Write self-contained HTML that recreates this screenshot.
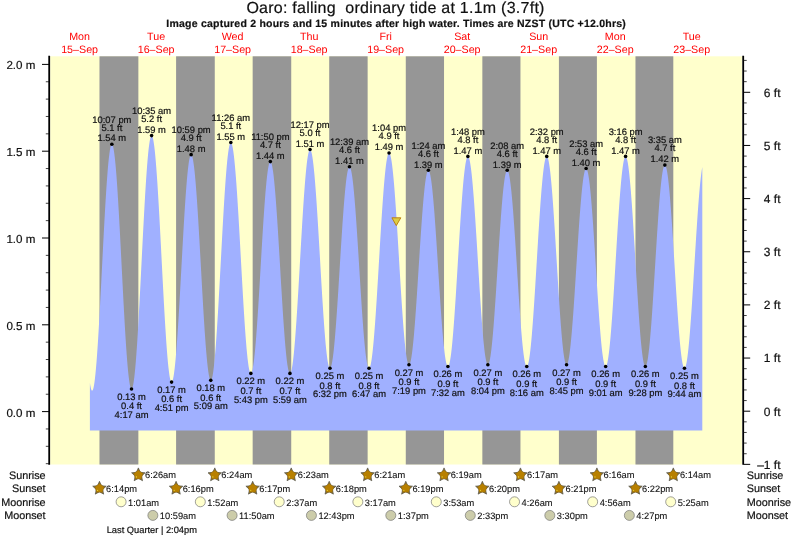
<!DOCTYPE html>
<html><head><meta charset="utf-8"><style>
html,body{margin:0;padding:0;background:#fff;width:793px;height:538px;overflow:hidden;}
svg{display:block;will-change:transform;font-family:"Liberation Sans", sans-serif;}
text{stroke-width:0.2px;text-rendering:geometricPrecision;}
</style></head><body>
<svg width="793" height="538" viewBox="0 0 793 538">
<rect x="0" y="0" width="793" height="538" fill="#fff"/>
<rect x="50.2" y="56.3" width="691.8" height="408.2" fill="#ffffcc"/>
<rect x="99.48" y="56.3" width="38.89" height="408.2" fill="#969696"/>
<rect x="176.09" y="56.3" width="38.68" height="408.2" fill="#969696"/>
<rect x="252.66" y="56.3" width="38.57" height="408.2" fill="#969696"/>
<rect x="329.22" y="56.3" width="38.41" height="408.2" fill="#969696"/>
<rect x="405.78" y="56.3" width="38.25" height="408.2" fill="#969696"/>
<rect x="482.35" y="56.3" width="38.10" height="408.2" fill="#969696"/>
<rect x="558.91" y="56.3" width="37.99" height="408.2" fill="#969696"/>
<rect x="635.47" y="56.3" width="37.83" height="408.2" fill="#969696"/>
<polygon points="89.90,430.50 89.90,382.99 90.41,386.12 90.92,388.46 91.43,389.99 91.94,390.71 92.45,390.61 92.96,389.70 93.47,387.98 93.98,385.46 94.49,382.16 95.00,378.11 95.51,373.33 96.02,367.85 96.53,361.70 97.04,354.94 97.56,347.59 98.07,339.72 98.58,331.37 99.09,322.60 99.60,313.46 100.11,304.03 100.62,294.35 101.13,284.49 101.64,274.52 102.15,264.50 102.66,254.51 103.17,244.60 103.68,234.84 104.19,225.30 104.70,216.03 105.21,207.11 105.72,198.59 106.23,190.52 106.74,182.95 107.25,175.95 107.76,169.55 108.27,163.80 108.78,158.74 109.29,154.39 109.80,150.79 110.31,147.96 110.82,145.92 111.33,144.68 111.84,144.26 112.35,144.64 112.87,145.84 113.38,147.85 113.89,150.64 114.40,154.20 114.91,158.51 115.42,163.54 115.93,169.25 116.44,175.62 116.95,182.58 117.46,190.11 117.97,198.14 118.48,206.63 118.99,215.52 119.50,224.75 120.01,234.26 120.52,243.98 121.03,253.85 121.54,263.81 122.05,273.79 122.56,283.72 123.07,293.53 123.58,303.17 124.09,312.57 124.60,321.65 125.11,330.38 125.62,338.68 126.13,346.50 126.64,353.79 127.15,360.50 127.66,366.59 128.17,372.01 128.69,376.73 129.20,380.72 129.71,383.95 130.22,386.41 130.73,388.06 131.24,388.91 131.75,388.95 132.26,388.18 132.77,386.61 133.28,384.24 133.79,381.10 134.30,377.20 134.81,372.57 135.32,367.24 135.83,361.24 136.34,354.61 136.85,347.39 137.36,339.64 137.87,331.38 138.38,322.69 138.89,313.61 139.40,304.21 139.91,294.54 140.42,284.66 140.93,274.64 141.44,264.55 141.95,254.44 142.46,244.38 142.97,234.43 143.49,224.66 144.00,215.13 144.51,205.90 145.02,197.03 145.53,188.58 146.04,180.59 146.55,173.13 147.06,166.23 147.57,159.95 148.08,154.31 148.59,149.37 149.10,145.14 149.61,141.67 150.12,138.95 150.63,137.03 151.14,135.90 151.65,135.58 152.16,136.06 152.67,137.32 153.18,139.37 153.69,142.19 154.20,145.76 154.71,150.06 155.22,155.05 155.73,160.72 156.24,167.02 156.75,173.90 157.26,181.34 157.77,189.27 158.28,197.65 158.80,206.43 159.31,215.54 159.82,224.93 160.33,234.54 160.84,244.30 161.35,254.16 161.86,264.05 162.37,273.91 162.88,283.67 163.39,293.26 163.90,302.64 164.41,311.74 164.92,320.49 165.43,328.85 165.94,336.75 166.45,344.16 166.96,351.02 167.47,357.28 167.98,362.91 168.49,367.87 169.00,372.12 169.51,375.65 170.02,378.43 170.53,380.43 171.04,381.65 171.55,382.09 172.06,381.74 172.57,380.63 173.08,378.77 173.59,376.16 174.10,372.83 174.62,368.80 175.13,364.09 175.64,358.74 176.15,352.79 176.66,346.26 177.17,339.22 177.68,331.69 178.19,323.74 178.70,315.42 179.21,306.79 179.72,297.89 180.23,288.80 180.74,279.57 181.25,270.26 181.76,260.94 182.27,251.68 182.78,242.52 183.29,233.54 183.80,224.79 184.31,216.33 184.82,208.23 185.33,200.53 185.84,193.28 186.35,186.54 186.86,180.35 187.37,174.75 187.88,169.78 188.39,165.47 188.90,161.86 189.41,158.96 189.93,156.79 190.44,155.38 190.95,154.72 191.46,154.83 191.97,155.68 192.48,157.28 192.99,159.61 193.50,162.66 194.01,166.41 194.52,170.82 195.03,175.88 195.54,181.55 196.05,187.79 196.56,194.57 197.07,201.82 197.58,209.51 198.09,217.59 198.60,226.00 199.11,234.69 199.62,243.59 200.13,252.65 200.64,261.82 201.15,271.02 201.66,280.19 202.17,289.28 202.68,298.23 203.19,306.97 203.70,315.45 204.21,323.62 204.72,331.41 205.24,338.77 205.75,345.66 206.26,352.03 206.77,357.84 207.28,363.05 207.79,367.62 208.30,371.53 208.81,374.75 209.32,377.25 209.83,379.03 210.34,380.06 210.85,380.35 211.36,379.87 211.87,378.64 212.38,376.66 212.89,373.94 213.40,370.51 213.91,366.37 214.42,361.56 214.93,356.11 215.44,350.05 215.95,343.43 216.46,336.28 216.97,328.65 217.48,320.59 217.99,312.16 218.50,303.39 219.01,294.36 219.52,285.12 220.03,275.73 220.55,266.24 221.06,256.73 221.57,247.24 222.08,237.85 222.59,228.60 223.10,219.57 223.61,210.81 224.12,202.36 224.63,194.30 225.14,186.67 225.65,179.52 226.16,172.89 226.67,166.82 227.18,161.37 227.69,156.55 228.20,152.41 228.71,148.96 229.22,146.23 229.73,144.24 230.24,143.01 230.75,142.53 231.26,142.80 231.77,143.81 232.28,145.55 232.79,148.01 233.30,151.18 233.81,155.03 234.32,159.54 234.83,164.67 235.34,170.41 235.86,176.71 236.37,183.52 236.88,190.82 237.39,198.54 237.90,206.64 238.41,215.08 238.92,223.78 239.43,232.71 239.94,241.80 240.45,250.99 240.96,260.22 241.47,269.44 241.98,278.59 242.49,287.61 243.00,296.43 243.51,305.01 244.02,313.29 244.53,321.22 245.04,328.73 245.55,335.80 246.06,342.37 246.57,348.40 247.08,353.84 247.59,358.68 248.10,362.87 248.61,366.38 249.12,369.21 249.63,371.32 250.14,372.70 250.66,373.35 251.17,373.27 251.68,372.47 252.19,370.96 252.70,368.75 253.21,365.86 253.72,362.30 254.23,358.11 254.74,353.30 255.25,347.91 255.76,341.98 256.27,335.54 256.78,328.65 257.29,321.34 257.80,313.67 258.31,305.69 258.82,297.44 259.33,289.00 259.84,280.41 260.35,271.74 260.86,263.03 261.37,254.36 261.88,245.77 262.39,237.33 262.90,229.10 263.41,221.12 263.92,213.46 264.43,206.17 264.94,199.28 265.45,192.86 265.97,186.95 266.48,181.57 266.99,176.78 267.50,172.60 268.01,169.07 268.52,166.20 269.03,164.01 269.54,162.52 270.05,161.74 270.56,161.68 271.07,162.32 271.58,163.67 272.09,165.71 272.60,168.43 273.11,171.81 273.62,175.83 274.13,180.47 274.64,185.69 275.15,191.45 275.66,197.73 276.17,204.46 276.68,211.63 277.19,219.16 277.70,227.02 278.21,235.14 278.72,243.49 279.23,251.99 279.74,260.60 280.25,269.26 280.76,277.90 281.27,286.47 281.79,294.92 282.30,303.18 282.81,311.21 283.32,318.94 283.83,326.33 284.34,333.33 284.85,339.88 285.36,345.96 285.87,351.51 286.38,356.49 286.89,360.89 287.40,364.65 287.91,367.77 288.42,370.22 288.93,371.98 289.44,373.05 289.95,373.41 290.46,373.06 290.97,371.99 291.48,370.23 291.99,367.77 292.50,364.63 293.01,360.84 293.52,356.41 294.03,351.38 294.54,345.77 295.05,339.63 295.56,332.99 296.07,325.90 296.58,318.39 297.10,310.52 297.61,302.34 298.12,293.90 298.63,285.25 299.14,276.45 299.65,267.55 300.16,258.62 300.67,249.70 301.18,240.86 301.69,232.14 302.20,223.62 302.71,215.34 303.22,207.35 303.73,199.70 304.24,192.45 304.75,185.63 305.26,179.30 305.77,173.50 306.28,168.25 306.79,163.60 307.30,159.56 307.81,156.18 308.32,153.47 308.83,151.45 309.34,150.12 309.85,149.51 310.36,149.61 310.87,150.41 311.38,151.92 311.90,154.12 312.41,156.99 312.92,160.53 313.43,164.70 313.94,169.48 314.45,174.84 314.96,180.74 315.47,187.15 315.98,194.02 316.49,201.31 317.00,208.97 317.51,216.96 318.02,225.22 318.53,233.69 319.04,242.33 319.55,251.07 320.06,259.86 320.57,268.65 321.08,277.38 321.59,285.98 322.10,294.41 322.61,302.60 323.12,310.52 323.63,318.10 324.14,325.30 324.65,332.06 325.16,338.35 325.67,344.13 326.18,349.36 326.69,354.00 327.20,358.02 327.72,361.40 328.23,364.12 328.74,366.16 329.25,367.50 329.76,368.14 330.27,368.08 330.78,367.33 331.29,365.91 331.80,363.83 332.31,361.10 332.82,357.73 333.33,353.75 333.84,349.19 334.35,344.08 334.86,338.45 335.37,332.34 335.88,325.80 336.39,318.86 336.90,311.57 337.41,303.99 337.92,296.16 338.43,288.13 338.94,279.97 339.45,271.72 339.96,263.44 340.47,255.19 340.98,247.03 341.49,239.00 342.00,231.17 342.51,223.58 343.03,216.29 343.54,209.34 344.05,202.79 344.56,196.67 345.07,191.03 345.58,185.91 346.09,181.34 346.60,177.36 347.11,173.98 347.62,171.23 348.13,169.14 348.64,167.71 349.15,166.95 349.66,166.87 350.17,167.47 350.68,168.75 351.19,170.68 351.70,173.27 352.21,176.49 352.72,180.32 353.23,184.74 353.74,189.71 354.25,195.21 354.76,201.19 355.27,207.62 355.78,214.45 356.29,221.63 356.80,229.13 357.31,236.88 357.82,244.84 358.34,252.95 358.85,261.16 359.36,269.41 359.87,277.65 360.38,285.82 360.89,293.87 361.40,301.74 361.91,309.38 362.42,316.74 362.93,323.77 363.44,330.42 363.95,336.65 364.46,342.41 364.97,347.67 365.48,352.39 365.99,356.54 366.50,360.10 367.01,363.03 367.52,365.32 368.03,366.95 368.54,367.91 369.05,368.20 369.56,367.80 370.07,366.72 370.58,364.96 371.09,362.53 371.60,359.45 372.11,355.73 372.62,351.40 373.13,346.50 373.65,341.04 374.16,335.07 374.67,328.62 375.18,321.73 375.69,314.46 376.20,306.83 376.71,298.92 377.22,290.75 377.73,282.40 378.24,273.90 378.75,265.32 379.26,256.70 379.77,248.12 380.28,239.61 380.79,231.23 381.30,223.05 381.81,215.10 382.32,207.45 382.83,200.13 383.34,193.21 383.85,186.71 384.36,180.69 384.87,175.17 385.38,170.21 385.89,165.82 386.40,162.04 386.91,158.89 387.42,156.40 387.93,154.57 388.45,153.41 388.96,152.95 389.47,153.17 389.98,154.07 390.49,155.66 391.00,157.91 391.51,160.81 392.02,164.35 392.53,168.50 393.04,173.24 393.55,178.52 394.06,184.33 394.57,190.62 395.08,197.35 395.59,204.48 396.10,211.96 396.61,219.75 397.12,227.79 397.63,236.03 398.14,244.41 398.65,252.89 399.16,261.41 399.67,269.91 400.18,278.34 400.69,286.64 401.20,294.77 401.71,302.66 402.22,310.26 402.73,317.54 403.24,324.43 403.75,330.90 404.27,336.90 404.78,342.40 405.29,347.36 405.80,351.74 406.31,355.53 406.82,358.68 407.33,361.20 407.84,363.04 408.35,364.22 408.86,364.71 409.37,364.53 409.88,363.68 410.39,362.17 410.90,360.02 411.41,357.23 411.92,353.83 412.43,349.85 412.94,345.30 413.45,340.22 413.96,334.64 414.47,328.60 414.98,322.15 415.49,315.32 416.00,308.17 416.51,300.74 417.02,293.08 417.53,285.25 418.04,277.29 418.55,269.27 419.07,261.24 419.58,253.25 420.09,245.36 420.60,237.62 421.11,230.08 421.62,222.80 422.13,215.82 422.64,209.20 423.15,202.98 423.66,197.19 424.17,191.89 424.68,187.10 425.19,182.87 425.70,179.21 426.21,176.15 426.72,173.72 427.23,171.93 427.74,170.79 428.25,170.31 428.76,170.50 429.27,171.34 429.78,172.83 430.29,174.97 430.80,177.74 431.31,181.11 431.82,185.07 432.33,189.59 432.84,194.64 433.35,200.18 433.86,206.19 434.38,212.61 434.89,219.40 435.40,226.53 435.91,233.93 436.42,241.57 436.93,249.39 437.44,257.33 437.95,265.35 438.46,273.39 438.97,281.40 439.48,289.32 439.99,297.10 440.50,304.68 441.01,312.02 441.52,319.07 442.03,325.78 442.54,332.10 443.05,337.99 443.56,343.42 444.07,348.34 444.58,352.72 445.09,356.54 445.60,359.77 446.11,362.38 446.62,364.36 447.13,365.69 447.64,366.37 448.15,366.39 448.66,365.74 449.17,364.41 449.69,362.42 450.20,359.79 450.71,356.52 451.22,352.63 451.73,348.16 452.24,343.14 452.75,337.58 453.26,331.54 453.77,325.04 454.28,318.14 454.79,310.87 455.30,303.28 455.81,295.42 456.32,287.35 456.83,279.10 457.34,270.75 457.85,262.33 458.36,253.91 458.87,245.53 459.38,237.26 459.89,229.15 460.40,221.24 460.91,213.59 461.42,206.25 461.93,199.26 462.44,192.68 462.95,186.53 463.46,180.87 463.97,175.73 464.48,171.14 465.00,167.13 465.51,163.73 466.02,160.95 466.53,158.83 467.04,157.36 467.55,156.56 468.06,156.44 468.57,156.99 469.08,158.21 469.59,160.09 470.10,162.61 470.61,165.76 471.12,169.52 471.63,173.87 472.14,178.78 472.65,184.22 473.16,190.14 473.67,196.52 474.18,203.31 474.69,210.47 475.20,217.95 475.71,225.71 476.22,233.69 476.73,241.84 477.24,250.12 477.75,258.46 478.26,266.81 478.77,275.13 479.28,283.35 479.79,291.43 480.31,299.30 480.82,306.93 481.33,314.26 481.84,321.24 482.35,327.83 482.86,333.99 483.37,339.68 483.88,344.85 484.39,349.49 484.90,353.55 485.41,357.02 485.92,359.86 486.43,362.06 486.94,363.61 487.45,364.50 487.96,364.72 488.47,364.27 488.98,363.15 489.49,361.38 490.00,358.96 490.51,355.92 491.02,352.27 491.53,348.03 492.04,343.25 492.55,337.94 493.06,332.15 493.57,325.91 494.08,319.28 494.59,312.29 495.10,304.99 495.62,297.43 496.13,289.67 496.64,281.76 497.15,273.74 497.66,265.69 498.17,257.65 498.68,249.67 499.19,241.82 499.70,234.14 500.21,226.70 500.72,219.53 501.23,212.70 501.74,206.24 502.25,200.20 502.76,194.62 503.27,189.54 503.78,185.00 504.29,181.03 504.80,177.65 505.31,174.89 505.82,172.76 506.33,171.29 506.84,170.47 507.35,170.32 507.86,170.83 508.37,172.00 508.88,173.82 509.39,176.27 509.90,179.34 510.41,183.01 510.92,187.25 511.44,192.04 511.95,197.34 512.46,203.11 512.97,209.33 513.48,215.94 513.99,222.91 514.50,230.18 515.01,237.71 515.52,245.44 516.03,253.33 516.54,261.32 517.05,269.35 517.56,277.38 518.07,285.35 518.58,293.21 519.09,300.90 519.60,308.37 520.11,315.57 520.62,322.45 521.13,328.97 521.64,335.09 522.15,340.75 522.66,345.93 523.17,350.59 523.68,354.70 524.19,358.22 524.70,361.14 525.21,363.44 525.72,365.10 526.23,366.11 526.75,366.46 527.26,366.15 527.77,365.16 528.28,363.51 528.79,361.19 529.30,358.24 529.81,354.66 530.32,350.48 530.83,345.73 531.34,340.44 531.85,334.63 532.36,328.36 532.87,321.66 533.38,314.56 533.89,307.13 534.40,299.40 534.91,291.43 535.42,283.26 535.93,274.96 536.44,266.56 536.95,258.14 537.46,249.73 537.97,241.40 538.48,233.20 538.99,225.18 539.50,217.40 540.01,209.90 540.52,202.73 541.03,195.93 541.54,189.56 542.06,183.65 542.57,178.25 543.08,173.37 543.59,169.07 544.10,165.36 544.61,162.27 545.12,159.81 545.63,158.01 546.14,156.88 546.65,156.42 547.16,156.64 547.67,157.53 548.18,159.10 548.69,161.34 549.20,164.22 549.71,167.73 550.22,171.86 550.73,176.56 551.24,181.81 551.75,187.57 552.26,193.82 552.77,200.50 553.28,207.57 553.79,214.99 554.30,222.71 554.81,230.67 555.32,238.83 555.83,247.13 556.34,255.53 556.86,263.95 557.37,272.35 557.88,280.68 558.39,288.87 558.90,296.88 559.41,304.65 559.92,312.13 560.43,319.27 560.94,326.04 561.45,332.37 561.96,338.23 562.47,343.59 562.98,348.40 563.49,352.64 564.00,356.27 564.51,359.28 565.02,361.64 565.53,363.35 566.04,364.38 566.55,364.73 567.06,364.41 567.57,363.43 568.08,361.81 568.59,359.54 569.10,356.65 569.61,353.15 570.12,349.08 570.63,344.45 571.14,339.29 571.65,333.65 572.16,327.56 572.68,321.06 573.19,314.19 573.70,307.01 574.21,299.55 574.72,291.87 575.23,284.02 575.74,276.06 576.25,268.03 576.76,259.99 577.27,252.00 577.78,244.10 578.29,236.36 578.80,228.82 579.31,221.54 579.82,214.55 580.33,207.92 580.84,201.69 581.35,195.88 581.86,190.56 582.37,185.74 582.88,181.47 583.39,177.78 583.90,174.67 584.41,172.19 584.92,170.34 585.43,169.14 585.94,168.60 586.45,168.71 586.96,169.49 587.47,170.92 587.99,173.01 588.50,175.73 589.01,179.07 589.52,183.00 590.03,187.50 590.54,192.54 591.05,198.08 591.56,204.08 592.07,210.52 592.58,217.34 593.09,224.49 593.60,231.93 594.11,239.61 594.62,247.48 595.13,255.49 595.64,263.57 596.15,271.69 596.66,279.77 597.17,287.77 597.68,295.63 598.19,303.31 598.70,310.75 599.21,317.89 599.72,324.70 600.23,331.12 600.74,337.11 601.25,342.64 601.76,347.66 602.27,352.15 602.78,356.06 603.30,359.38 603.81,362.08 604.32,364.15 604.83,365.57 605.34,366.33 605.85,366.42 606.36,365.84 606.87,364.58 607.38,362.65 607.89,360.07 608.40,356.85 608.91,353.02 609.42,348.59 609.93,343.59 610.44,338.07 610.95,332.05 611.46,325.57 611.97,318.68 612.48,311.41 612.99,303.83 613.50,295.97 614.01,287.88 614.52,279.63 615.03,271.25 615.54,262.82 616.05,254.37 616.56,245.97 617.07,237.67 617.58,229.52 618.09,221.58 618.61,213.90 619.12,206.53 619.63,199.51 620.14,192.89 620.65,186.72 621.16,181.02 621.67,175.85 622.18,171.24 622.69,167.20 623.20,163.78 623.71,160.99 624.22,158.85 624.73,157.37 625.24,156.57 625.75,156.44 626.26,157.01 626.77,158.26 627.28,160.18 627.79,162.78 628.30,166.02 628.81,169.89 629.32,174.36 629.83,179.41 630.34,184.99 630.85,191.08 631.36,197.63 631.87,204.60 632.38,211.94 632.89,219.61 633.40,227.56 633.92,235.72 634.43,244.06 634.94,252.51 635.45,261.02 635.96,269.53 636.47,277.99 636.98,286.34 637.49,294.52 638.00,302.49 638.51,310.19 639.02,317.57 639.53,324.57 640.04,331.17 640.55,337.30 641.06,342.94 641.57,348.04 642.08,352.57 642.59,356.50 643.10,359.80 643.61,362.46 644.12,364.46 644.63,365.77 645.14,366.40 645.65,366.35 646.16,365.61 646.67,364.20 647.18,362.12 647.69,359.39 648.20,356.03 648.72,352.06 649.23,347.51 649.74,342.40 650.25,336.78 650.76,330.67 651.27,324.13 651.78,317.19 652.29,309.91 652.80,302.33 653.31,294.50 653.82,286.48 654.33,278.32 654.84,270.07 655.35,261.79 655.86,253.54 656.37,245.38 656.88,237.35 657.39,229.51 657.90,221.92 658.41,214.62 658.92,207.67 659.43,201.12 659.94,195.00 660.45,189.35 660.96,184.23 661.47,179.65 661.98,175.66 662.49,172.28 663.00,169.52 663.51,167.42 664.02,165.98 664.54,165.22 665.05,165.14 665.56,165.73 666.07,167.00 666.58,168.94 667.09,171.52 667.60,174.75 668.11,178.59 668.62,183.01 669.13,188.00 669.64,193.51 670.15,199.51 670.66,205.96 671.17,212.81 671.68,220.03 672.19,227.55 672.70,235.34 673.21,243.34 673.72,251.49 674.23,259.74 674.74,268.04 675.25,276.33 675.76,284.56 676.27,292.66 676.78,300.59 677.29,308.30 677.80,315.72 678.31,322.82 678.82,329.55 679.34,335.85 679.85,341.69 680.36,347.03 680.87,351.83 681.38,356.06 681.89,359.69 682.40,362.71 682.91,365.08 683.42,366.79 683.93,367.83 684.44,368.20 684.95,367.89 685.46,366.91 685.97,365.27 686.48,362.98 686.99,360.05 687.50,356.50 688.01,352.36 688.52,347.64 689.03,342.39 689.54,336.64 690.05,330.42 690.56,323.78 691.07,316.75 691.58,309.38 692.09,301.73 692.60,293.84 693.11,285.75 693.62,277.54 694.13,269.24 694.65,260.91 695.16,252.61 695.67,244.39 696.18,236.30 696.69,228.40 697.20,220.73 697.71,213.36 698.22,206.31 698.73,199.65 699.24,193.42 699.75,187.64 700.26,182.37 700.77,177.64 701.28,173.47 701.79,169.90 702.30,166.94 702.30,430.50" fill="#a0b0ff"/>
<line x1="49.2" y1="55.699999999999996" x2="49.2" y2="464.8" stroke="#000" stroke-width="1.8"/>
<line x1="743.2" y1="55.699999999999996" x2="743.2" y2="464.8" stroke="#000" stroke-width="1.8"/>
<line x1="45.8" y1="463.68" x2="49" y2="463.68" stroke="#111" stroke-width="0.8"/>
<line x1="45.8" y1="446.32" x2="49" y2="446.32" stroke="#111" stroke-width="0.8"/>
<line x1="45.8" y1="428.96" x2="49" y2="428.96" stroke="#111" stroke-width="0.8"/>
<line x1="42" y1="411.60" x2="49" y2="411.60" stroke="#000" stroke-width="1"/>
<line x1="45.8" y1="394.24" x2="49" y2="394.24" stroke="#111" stroke-width="0.8"/>
<line x1="45.8" y1="376.88" x2="49" y2="376.88" stroke="#111" stroke-width="0.8"/>
<line x1="45.8" y1="359.52" x2="49" y2="359.52" stroke="#111" stroke-width="0.8"/>
<line x1="45.8" y1="342.16" x2="49" y2="342.16" stroke="#111" stroke-width="0.8"/>
<line x1="42" y1="324.80" x2="49" y2="324.80" stroke="#000" stroke-width="1"/>
<line x1="45.8" y1="307.44" x2="49" y2="307.44" stroke="#111" stroke-width="0.8"/>
<line x1="45.8" y1="290.08" x2="49" y2="290.08" stroke="#111" stroke-width="0.8"/>
<line x1="45.8" y1="272.72" x2="49" y2="272.72" stroke="#111" stroke-width="0.8"/>
<line x1="45.8" y1="255.36" x2="49" y2="255.36" stroke="#111" stroke-width="0.8"/>
<line x1="42" y1="238.00" x2="49" y2="238.00" stroke="#000" stroke-width="1"/>
<line x1="45.8" y1="220.64" x2="49" y2="220.64" stroke="#111" stroke-width="0.8"/>
<line x1="45.8" y1="203.28" x2="49" y2="203.28" stroke="#111" stroke-width="0.8"/>
<line x1="45.8" y1="185.92" x2="49" y2="185.92" stroke="#111" stroke-width="0.8"/>
<line x1="45.8" y1="168.56" x2="49" y2="168.56" stroke="#111" stroke-width="0.8"/>
<line x1="42" y1="151.20" x2="49" y2="151.20" stroke="#000" stroke-width="1"/>
<line x1="45.8" y1="133.84" x2="49" y2="133.84" stroke="#111" stroke-width="0.8"/>
<line x1="45.8" y1="116.48" x2="49" y2="116.48" stroke="#111" stroke-width="0.8"/>
<line x1="45.8" y1="99.12" x2="49" y2="99.12" stroke="#111" stroke-width="0.8"/>
<line x1="45.8" y1="81.76" x2="49" y2="81.76" stroke="#111" stroke-width="0.8"/>
<line x1="42" y1="64.40" x2="49" y2="64.40" stroke="#000" stroke-width="1"/>
<text x="35.4" y="416.60" font-family="Liberation Sans, sans-serif" font-size="11.6" text-anchor="end" fill="#111" stroke="#111">0.0 m</text>
<text x="35.4" y="329.80" font-family="Liberation Sans, sans-serif" font-size="11.6" text-anchor="end" fill="#111" stroke="#111">0.5 m</text>
<text x="35.4" y="243.00" font-family="Liberation Sans, sans-serif" font-size="11.6" text-anchor="end" fill="#111" stroke="#111">1.0 m</text>
<text x="35.4" y="156.20" font-family="Liberation Sans, sans-serif" font-size="11.6" text-anchor="end" fill="#111" stroke="#111">1.5 m</text>
<text x="35.4" y="69.40" font-family="Liberation Sans, sans-serif" font-size="11.6" text-anchor="end" fill="#111" stroke="#111">2.0 m</text>
<line x1="743.5" y1="464.35" x2="750.2" y2="464.35" stroke="#000" stroke-width="1"/>
<line x1="743.5" y1="453.72" x2="746.7" y2="453.72" stroke="#111" stroke-width="0.8"/>
<line x1="743.5" y1="443.09" x2="746.7" y2="443.09" stroke="#111" stroke-width="0.8"/>
<line x1="743.5" y1="432.46" x2="746.7" y2="432.46" stroke="#111" stroke-width="0.8"/>
<line x1="743.5" y1="421.83" x2="746.7" y2="421.83" stroke="#111" stroke-width="0.8"/>
<line x1="743.5" y1="411.20" x2="750.2" y2="411.20" stroke="#000" stroke-width="1"/>
<line x1="743.5" y1="400.57" x2="746.7" y2="400.57" stroke="#111" stroke-width="0.8"/>
<line x1="743.5" y1="389.94" x2="746.7" y2="389.94" stroke="#111" stroke-width="0.8"/>
<line x1="743.5" y1="379.31" x2="746.7" y2="379.31" stroke="#111" stroke-width="0.8"/>
<line x1="743.5" y1="368.68" x2="746.7" y2="368.68" stroke="#111" stroke-width="0.8"/>
<line x1="743.5" y1="358.05" x2="750.2" y2="358.05" stroke="#000" stroke-width="1"/>
<line x1="743.5" y1="347.42" x2="746.7" y2="347.42" stroke="#111" stroke-width="0.8"/>
<line x1="743.5" y1="336.79" x2="746.7" y2="336.79" stroke="#111" stroke-width="0.8"/>
<line x1="743.5" y1="326.16" x2="746.7" y2="326.16" stroke="#111" stroke-width="0.8"/>
<line x1="743.5" y1="315.53" x2="746.7" y2="315.53" stroke="#111" stroke-width="0.8"/>
<line x1="743.5" y1="304.90" x2="750.2" y2="304.90" stroke="#000" stroke-width="1"/>
<line x1="743.5" y1="294.27" x2="746.7" y2="294.27" stroke="#111" stroke-width="0.8"/>
<line x1="743.5" y1="283.64" x2="746.7" y2="283.64" stroke="#111" stroke-width="0.8"/>
<line x1="743.5" y1="273.01" x2="746.7" y2="273.01" stroke="#111" stroke-width="0.8"/>
<line x1="743.5" y1="262.38" x2="746.7" y2="262.38" stroke="#111" stroke-width="0.8"/>
<line x1="743.5" y1="251.75" x2="750.2" y2="251.75" stroke="#000" stroke-width="1"/>
<line x1="743.5" y1="241.12" x2="746.7" y2="241.12" stroke="#111" stroke-width="0.8"/>
<line x1="743.5" y1="230.49" x2="746.7" y2="230.49" stroke="#111" stroke-width="0.8"/>
<line x1="743.5" y1="219.86" x2="746.7" y2="219.86" stroke="#111" stroke-width="0.8"/>
<line x1="743.5" y1="209.23" x2="746.7" y2="209.23" stroke="#111" stroke-width="0.8"/>
<line x1="743.5" y1="198.60" x2="750.2" y2="198.60" stroke="#000" stroke-width="1"/>
<line x1="743.5" y1="187.97" x2="746.7" y2="187.97" stroke="#111" stroke-width="0.8"/>
<line x1="743.5" y1="177.34" x2="746.7" y2="177.34" stroke="#111" stroke-width="0.8"/>
<line x1="743.5" y1="166.71" x2="746.7" y2="166.71" stroke="#111" stroke-width="0.8"/>
<line x1="743.5" y1="156.08" x2="746.7" y2="156.08" stroke="#111" stroke-width="0.8"/>
<line x1="743.5" y1="145.45" x2="750.2" y2="145.45" stroke="#000" stroke-width="1"/>
<line x1="743.5" y1="134.82" x2="746.7" y2="134.82" stroke="#111" stroke-width="0.8"/>
<line x1="743.5" y1="124.19" x2="746.7" y2="124.19" stroke="#111" stroke-width="0.8"/>
<line x1="743.5" y1="113.56" x2="746.7" y2="113.56" stroke="#111" stroke-width="0.8"/>
<line x1="743.5" y1="102.93" x2="746.7" y2="102.93" stroke="#111" stroke-width="0.8"/>
<line x1="743.5" y1="92.30" x2="750.2" y2="92.30" stroke="#000" stroke-width="1"/>
<line x1="743.5" y1="81.67" x2="746.7" y2="81.67" stroke="#111" stroke-width="0.8"/>
<line x1="743.5" y1="71.04" x2="746.7" y2="71.04" stroke="#111" stroke-width="0.8"/>
<line x1="743.5" y1="60.41" x2="746.7" y2="60.41" stroke="#111" stroke-width="0.8"/>
<text x="780.5" y="468.75" font-family="Liberation Sans, sans-serif" font-size="12" text-anchor="end" fill="#111" stroke="#111">–1 ft</text>
<text x="780.5" y="415.60" font-family="Liberation Sans, sans-serif" font-size="12" text-anchor="end" fill="#111" stroke="#111">0 ft</text>
<text x="780.5" y="362.45" font-family="Liberation Sans, sans-serif" font-size="12" text-anchor="end" fill="#111" stroke="#111">1 ft</text>
<text x="780.5" y="309.30" font-family="Liberation Sans, sans-serif" font-size="12" text-anchor="end" fill="#111" stroke="#111">2 ft</text>
<text x="780.5" y="256.15" font-family="Liberation Sans, sans-serif" font-size="12" text-anchor="end" fill="#111" stroke="#111">3 ft</text>
<text x="780.5" y="203.00" font-family="Liberation Sans, sans-serif" font-size="12" text-anchor="end" fill="#111" stroke="#111">4 ft</text>
<text x="780.5" y="149.85" font-family="Liberation Sans, sans-serif" font-size="12" text-anchor="end" fill="#111" stroke="#111">5 ft</text>
<text x="780.5" y="96.70" font-family="Liberation Sans, sans-serif" font-size="12" text-anchor="end" fill="#111" stroke="#111">6 ft</text>
<text x="246.4" y="13.2" font-family="Liberation Sans, sans-serif" font-size="16" textLength="298" lengthAdjust="spacing" fill="#111" stroke="#111">Oaro: falling&#160; ordinary tide at 1.1m (3.7ft)</text>
<text x="166.3" y="27.4" font-family="Liberation Sans, sans-serif" font-size="10.5" font-weight="bold" textLength="459.5" lengthAdjust="spacing" fill="#111" stroke="#111">Image captured 2 hours and 15 minutes after high water. Times are NZST (UTC +12.0hrs)</text>
<text x="79.61" y="39.8" font-family="Liberation Sans, sans-serif" font-size="10.7" text-anchor="middle" fill="#ff0000">Mon</text>
<text x="79.61" y="52.6" font-family="Liberation Sans, sans-serif" font-size="10.7" text-anchor="middle" fill="#ff0000">15–Sep</text>
<text x="156.12" y="39.8" font-family="Liberation Sans, sans-serif" font-size="10.7" text-anchor="middle" fill="#ff0000">Tue</text>
<text x="156.12" y="52.6" font-family="Liberation Sans, sans-serif" font-size="10.7" text-anchor="middle" fill="#ff0000">16–Sep</text>
<text x="232.62" y="39.8" font-family="Liberation Sans, sans-serif" font-size="10.7" text-anchor="middle" fill="#ff0000">Wed</text>
<text x="232.62" y="52.6" font-family="Liberation Sans, sans-serif" font-size="10.7" text-anchor="middle" fill="#ff0000">17–Sep</text>
<text x="309.14" y="39.8" font-family="Liberation Sans, sans-serif" font-size="10.7" text-anchor="middle" fill="#ff0000">Thu</text>
<text x="309.14" y="52.6" font-family="Liberation Sans, sans-serif" font-size="10.7" text-anchor="middle" fill="#ff0000">18–Sep</text>
<text x="385.65" y="39.8" font-family="Liberation Sans, sans-serif" font-size="10.7" text-anchor="middle" fill="#ff0000">Fri</text>
<text x="385.65" y="52.6" font-family="Liberation Sans, sans-serif" font-size="10.7" text-anchor="middle" fill="#ff0000">19–Sep</text>
<text x="462.16" y="39.8" font-family="Liberation Sans, sans-serif" font-size="10.7" text-anchor="middle" fill="#ff0000">Sat</text>
<text x="462.16" y="52.6" font-family="Liberation Sans, sans-serif" font-size="10.7" text-anchor="middle" fill="#ff0000">20–Sep</text>
<text x="538.67" y="39.8" font-family="Liberation Sans, sans-serif" font-size="10.7" text-anchor="middle" fill="#ff0000">Sun</text>
<text x="538.67" y="52.6" font-family="Liberation Sans, sans-serif" font-size="10.7" text-anchor="middle" fill="#ff0000">21–Sep</text>
<text x="615.18" y="39.8" font-family="Liberation Sans, sans-serif" font-size="10.7" text-anchor="middle" fill="#ff0000">Mon</text>
<text x="615.18" y="52.6" font-family="Liberation Sans, sans-serif" font-size="10.7" text-anchor="middle" fill="#ff0000">22–Sep</text>
<text x="691.69" y="39.8" font-family="Liberation Sans, sans-serif" font-size="10.7" text-anchor="middle" fill="#ff0000">Tue</text>
<text x="691.69" y="52.6" font-family="Liberation Sans, sans-serif" font-size="10.7" text-anchor="middle" fill="#ff0000">23–Sep</text>
<circle cx="111.86" cy="144.26" r="1.8" fill="#000"/>
<text x="111.86" y="122.66" font-family="Liberation Sans, sans-serif" font-size="9.4" text-anchor="middle" fill="#111" stroke="#111">10:07 pm</text>
<text x="111.86" y="130.66" font-family="Liberation Sans, sans-serif" font-size="9.4" text-anchor="middle" fill="#111" stroke="#111">5.1 ft</text>
<text x="111.86" y="141.46" font-family="Liberation Sans, sans-serif" font-size="9.4" text-anchor="middle" fill="#111" stroke="#111">1.54 m</text>
<circle cx="131.51" cy="389.03" r="1.8" fill="#000"/>
<text x="131.51" y="399.83" font-family="Liberation Sans, sans-serif" font-size="9.4" text-anchor="middle" fill="#111" stroke="#111">0.13 m</text>
<text x="131.51" y="409.43" font-family="Liberation Sans, sans-serif" font-size="9.4" text-anchor="middle" fill="#111" stroke="#111">0.4 ft</text>
<text x="131.51" y="418.13" font-family="Liberation Sans, sans-serif" font-size="9.4" text-anchor="middle" fill="#111" stroke="#111">4:17 am</text>
<circle cx="151.60" cy="135.58" r="1.8" fill="#000"/>
<text x="151.60" y="113.98" font-family="Liberation Sans, sans-serif" font-size="9.4" text-anchor="middle" fill="#111" stroke="#111">10:35 am</text>
<text x="151.60" y="121.98" font-family="Liberation Sans, sans-serif" font-size="9.4" text-anchor="middle" fill="#111" stroke="#111">5.2 ft</text>
<text x="151.60" y="132.78" font-family="Liberation Sans, sans-serif" font-size="9.4" text-anchor="middle" fill="#111" stroke="#111">1.59 m</text>
<circle cx="171.58" cy="382.09" r="1.8" fill="#000"/>
<text x="171.58" y="392.89" font-family="Liberation Sans, sans-serif" font-size="9.4" text-anchor="middle" fill="#111" stroke="#111">0.17 m</text>
<text x="171.58" y="402.49" font-family="Liberation Sans, sans-serif" font-size="9.4" text-anchor="middle" fill="#111" stroke="#111">0.6 ft</text>
<text x="171.58" y="411.19" font-family="Liberation Sans, sans-serif" font-size="9.4" text-anchor="middle" fill="#111" stroke="#111">4:51 pm</text>
<circle cx="191.13" cy="154.67" r="1.8" fill="#000"/>
<text x="191.13" y="133.07" font-family="Liberation Sans, sans-serif" font-size="9.4" text-anchor="middle" fill="#111" stroke="#111">10:59 pm</text>
<text x="191.13" y="141.07" font-family="Liberation Sans, sans-serif" font-size="9.4" text-anchor="middle" fill="#111" stroke="#111">4.9 ft</text>
<text x="191.13" y="151.87" font-family="Liberation Sans, sans-serif" font-size="9.4" text-anchor="middle" fill="#111" stroke="#111">1.48 m</text>
<circle cx="210.79" cy="380.35" r="1.8" fill="#000"/>
<text x="210.79" y="391.15" font-family="Liberation Sans, sans-serif" font-size="9.4" text-anchor="middle" fill="#111" stroke="#111">0.18 m</text>
<text x="210.79" y="400.75" font-family="Liberation Sans, sans-serif" font-size="9.4" text-anchor="middle" fill="#111" stroke="#111">0.6 ft</text>
<text x="210.79" y="409.45" font-family="Liberation Sans, sans-serif" font-size="9.4" text-anchor="middle" fill="#111" stroke="#111">5:09 am</text>
<circle cx="230.82" cy="142.52" r="1.8" fill="#000"/>
<text x="230.82" y="120.92" font-family="Liberation Sans, sans-serif" font-size="9.4" text-anchor="middle" fill="#111" stroke="#111">11:26 am</text>
<text x="230.82" y="128.92" font-family="Liberation Sans, sans-serif" font-size="9.4" text-anchor="middle" fill="#111" stroke="#111">5.1 ft</text>
<text x="230.82" y="139.72" font-family="Liberation Sans, sans-serif" font-size="9.4" text-anchor="middle" fill="#111" stroke="#111">1.55 m</text>
<circle cx="250.85" cy="373.41" r="1.8" fill="#000"/>
<text x="250.85" y="384.21" font-family="Liberation Sans, sans-serif" font-size="9.4" text-anchor="middle" fill="#111" stroke="#111">0.22 m</text>
<text x="250.85" y="393.81" font-family="Liberation Sans, sans-serif" font-size="9.4" text-anchor="middle" fill="#111" stroke="#111">0.7 ft</text>
<text x="250.85" y="402.51" font-family="Liberation Sans, sans-serif" font-size="9.4" text-anchor="middle" fill="#111" stroke="#111">5:43 pm</text>
<circle cx="270.35" cy="161.62" r="1.8" fill="#000"/>
<text x="270.35" y="140.02" font-family="Liberation Sans, sans-serif" font-size="9.4" text-anchor="middle" fill="#111" stroke="#111">11:50 pm</text>
<text x="270.35" y="148.02" font-family="Liberation Sans, sans-serif" font-size="9.4" text-anchor="middle" fill="#111" stroke="#111">4.7 ft</text>
<text x="270.35" y="158.82" font-family="Liberation Sans, sans-serif" font-size="9.4" text-anchor="middle" fill="#111" stroke="#111">1.44 m</text>
<circle cx="289.95" cy="373.41" r="1.8" fill="#000"/>
<text x="289.95" y="384.21" font-family="Liberation Sans, sans-serif" font-size="9.4" text-anchor="middle" fill="#111" stroke="#111">0.22 m</text>
<text x="289.95" y="393.81" font-family="Liberation Sans, sans-serif" font-size="9.4" text-anchor="middle" fill="#111" stroke="#111">0.7 ft</text>
<text x="289.95" y="402.51" font-family="Liberation Sans, sans-serif" font-size="9.4" text-anchor="middle" fill="#111" stroke="#111">5:59 am</text>
<circle cx="310.04" cy="149.46" r="1.8" fill="#000"/>
<text x="310.04" y="127.86" font-family="Liberation Sans, sans-serif" font-size="9.4" text-anchor="middle" fill="#111" stroke="#111">12:17 pm</text>
<text x="310.04" y="135.86" font-family="Liberation Sans, sans-serif" font-size="9.4" text-anchor="middle" fill="#111" stroke="#111">5.0 ft</text>
<text x="310.04" y="146.66" font-family="Liberation Sans, sans-serif" font-size="9.4" text-anchor="middle" fill="#111" stroke="#111">1.51 m</text>
<circle cx="329.96" cy="368.20" r="1.8" fill="#000"/>
<text x="329.96" y="379.00" font-family="Liberation Sans, sans-serif" font-size="9.4" text-anchor="middle" fill="#111" stroke="#111">0.25 m</text>
<text x="329.96" y="388.60" font-family="Liberation Sans, sans-serif" font-size="9.4" text-anchor="middle" fill="#111" stroke="#111">0.8 ft</text>
<text x="329.96" y="397.30" font-family="Liberation Sans, sans-serif" font-size="9.4" text-anchor="middle" fill="#111" stroke="#111">6:32 pm</text>
<circle cx="349.46" cy="166.82" r="1.8" fill="#000"/>
<text x="349.46" y="145.22" font-family="Liberation Sans, sans-serif" font-size="9.4" text-anchor="middle" fill="#111" stroke="#111">12:39 am</text>
<text x="349.46" y="153.22" font-family="Liberation Sans, sans-serif" font-size="9.4" text-anchor="middle" fill="#111" stroke="#111">4.6 ft</text>
<text x="349.46" y="164.02" font-family="Liberation Sans, sans-serif" font-size="9.4" text-anchor="middle" fill="#111" stroke="#111">1.41 m</text>
<circle cx="369.01" cy="368.20" r="1.8" fill="#000"/>
<text x="369.01" y="379.00" font-family="Liberation Sans, sans-serif" font-size="9.4" text-anchor="middle" fill="#111" stroke="#111">0.25 m</text>
<text x="369.01" y="388.60" font-family="Liberation Sans, sans-serif" font-size="9.4" text-anchor="middle" fill="#111" stroke="#111">0.8 ft</text>
<text x="369.01" y="397.30" font-family="Liberation Sans, sans-serif" font-size="9.4" text-anchor="middle" fill="#111" stroke="#111">6:47 am</text>
<circle cx="389.05" cy="152.94" r="1.8" fill="#000"/>
<text x="389.05" y="131.34" font-family="Liberation Sans, sans-serif" font-size="9.4" text-anchor="middle" fill="#111" stroke="#111">1:04 pm</text>
<text x="389.05" y="139.34" font-family="Liberation Sans, sans-serif" font-size="9.4" text-anchor="middle" fill="#111" stroke="#111">4.9 ft</text>
<text x="389.05" y="150.14" font-family="Liberation Sans, sans-serif" font-size="9.4" text-anchor="middle" fill="#111" stroke="#111">1.49 m</text>
<circle cx="408.97" cy="364.73" r="1.8" fill="#000"/>
<text x="408.97" y="375.53" font-family="Liberation Sans, sans-serif" font-size="9.4" text-anchor="middle" fill="#111" stroke="#111">0.27 m</text>
<text x="408.97" y="385.13" font-family="Liberation Sans, sans-serif" font-size="9.4" text-anchor="middle" fill="#111" stroke="#111">0.9 ft</text>
<text x="408.97" y="393.83" font-family="Liberation Sans, sans-serif" font-size="9.4" text-anchor="middle" fill="#111" stroke="#111">7:19 pm</text>
<circle cx="428.36" cy="170.30" r="1.8" fill="#000"/>
<text x="428.36" y="148.70" font-family="Liberation Sans, sans-serif" font-size="9.4" text-anchor="middle" fill="#111" stroke="#111">1:24 am</text>
<text x="428.36" y="156.70" font-family="Liberation Sans, sans-serif" font-size="9.4" text-anchor="middle" fill="#111" stroke="#111">4.6 ft</text>
<text x="428.36" y="167.50" font-family="Liberation Sans, sans-serif" font-size="9.4" text-anchor="middle" fill="#111" stroke="#111">1.39 m</text>
<circle cx="447.92" cy="366.46" r="1.8" fill="#000"/>
<text x="447.92" y="377.26" font-family="Liberation Sans, sans-serif" font-size="9.4" text-anchor="middle" fill="#111" stroke="#111">0.26 m</text>
<text x="447.92" y="386.86" font-family="Liberation Sans, sans-serif" font-size="9.4" text-anchor="middle" fill="#111" stroke="#111">0.9 ft</text>
<text x="447.92" y="395.56" font-family="Liberation Sans, sans-serif" font-size="9.4" text-anchor="middle" fill="#111" stroke="#111">7:32 am</text>
<circle cx="467.89" cy="156.41" r="1.8" fill="#000"/>
<text x="467.89" y="134.81" font-family="Liberation Sans, sans-serif" font-size="9.4" text-anchor="middle" fill="#111" stroke="#111">1:48 pm</text>
<text x="467.89" y="142.81" font-family="Liberation Sans, sans-serif" font-size="9.4" text-anchor="middle" fill="#111" stroke="#111">4.8 ft</text>
<text x="467.89" y="153.61" font-family="Liberation Sans, sans-serif" font-size="9.4" text-anchor="middle" fill="#111" stroke="#111">1.47 m</text>
<circle cx="487.87" cy="364.73" r="1.8" fill="#000"/>
<text x="487.87" y="375.53" font-family="Liberation Sans, sans-serif" font-size="9.4" text-anchor="middle" fill="#111" stroke="#111">0.27 m</text>
<text x="487.87" y="385.13" font-family="Liberation Sans, sans-serif" font-size="9.4" text-anchor="middle" fill="#111" stroke="#111">0.9 ft</text>
<text x="487.87" y="393.83" font-family="Liberation Sans, sans-serif" font-size="9.4" text-anchor="middle" fill="#111" stroke="#111">8:04 pm</text>
<circle cx="507.21" cy="170.30" r="1.8" fill="#000"/>
<text x="507.21" y="148.70" font-family="Liberation Sans, sans-serif" font-size="9.4" text-anchor="middle" fill="#111" stroke="#111">2:08 am</text>
<text x="507.21" y="156.70" font-family="Liberation Sans, sans-serif" font-size="9.4" text-anchor="middle" fill="#111" stroke="#111">4.6 ft</text>
<text x="507.21" y="167.50" font-family="Liberation Sans, sans-serif" font-size="9.4" text-anchor="middle" fill="#111" stroke="#111">1.39 m</text>
<circle cx="526.76" cy="366.46" r="1.8" fill="#000"/>
<text x="526.76" y="377.26" font-family="Liberation Sans, sans-serif" font-size="9.4" text-anchor="middle" fill="#111" stroke="#111">0.26 m</text>
<text x="526.76" y="386.86" font-family="Liberation Sans, sans-serif" font-size="9.4" text-anchor="middle" fill="#111" stroke="#111">0.9 ft</text>
<text x="526.76" y="395.56" font-family="Liberation Sans, sans-serif" font-size="9.4" text-anchor="middle" fill="#111" stroke="#111">8:16 am</text>
<circle cx="546.74" cy="156.41" r="1.8" fill="#000"/>
<text x="546.74" y="134.81" font-family="Liberation Sans, sans-serif" font-size="9.4" text-anchor="middle" fill="#111" stroke="#111">2:32 pm</text>
<text x="546.74" y="142.81" font-family="Liberation Sans, sans-serif" font-size="9.4" text-anchor="middle" fill="#111" stroke="#111">4.8 ft</text>
<text x="546.74" y="153.61" font-family="Liberation Sans, sans-serif" font-size="9.4" text-anchor="middle" fill="#111" stroke="#111">1.47 m</text>
<circle cx="566.56" cy="364.73" r="1.8" fill="#000"/>
<text x="566.56" y="375.53" font-family="Liberation Sans, sans-serif" font-size="9.4" text-anchor="middle" fill="#111" stroke="#111">0.27 m</text>
<text x="566.56" y="385.13" font-family="Liberation Sans, sans-serif" font-size="9.4" text-anchor="middle" fill="#111" stroke="#111">0.9 ft</text>
<text x="566.56" y="393.83" font-family="Liberation Sans, sans-serif" font-size="9.4" text-anchor="middle" fill="#111" stroke="#111">8:45 pm</text>
<circle cx="586.11" cy="168.56" r="1.8" fill="#000"/>
<text x="586.11" y="146.96" font-family="Liberation Sans, sans-serif" font-size="9.4" text-anchor="middle" fill="#111" stroke="#111">2:53 am</text>
<text x="586.11" y="154.96" font-family="Liberation Sans, sans-serif" font-size="9.4" text-anchor="middle" fill="#111" stroke="#111">4.6 ft</text>
<text x="586.11" y="165.76" font-family="Liberation Sans, sans-serif" font-size="9.4" text-anchor="middle" fill="#111" stroke="#111">1.40 m</text>
<circle cx="605.66" cy="366.46" r="1.8" fill="#000"/>
<text x="605.66" y="377.26" font-family="Liberation Sans, sans-serif" font-size="9.4" text-anchor="middle" fill="#111" stroke="#111">0.26 m</text>
<text x="605.66" y="386.86" font-family="Liberation Sans, sans-serif" font-size="9.4" text-anchor="middle" fill="#111" stroke="#111">0.9 ft</text>
<text x="605.66" y="395.56" font-family="Liberation Sans, sans-serif" font-size="9.4" text-anchor="middle" fill="#111" stroke="#111">9:01 am</text>
<circle cx="625.59" cy="156.41" r="1.8" fill="#000"/>
<text x="625.59" y="134.81" font-family="Liberation Sans, sans-serif" font-size="9.4" text-anchor="middle" fill="#111" stroke="#111">3:16 pm</text>
<text x="625.59" y="142.81" font-family="Liberation Sans, sans-serif" font-size="9.4" text-anchor="middle" fill="#111" stroke="#111">4.8 ft</text>
<text x="625.59" y="153.61" font-family="Liberation Sans, sans-serif" font-size="9.4" text-anchor="middle" fill="#111" stroke="#111">1.47 m</text>
<circle cx="645.35" cy="366.46" r="1.8" fill="#000"/>
<text x="645.35" y="377.26" font-family="Liberation Sans, sans-serif" font-size="9.4" text-anchor="middle" fill="#111" stroke="#111">0.26 m</text>
<text x="645.35" y="386.86" font-family="Liberation Sans, sans-serif" font-size="9.4" text-anchor="middle" fill="#111" stroke="#111">0.9 ft</text>
<text x="645.35" y="395.56" font-family="Liberation Sans, sans-serif" font-size="9.4" text-anchor="middle" fill="#111" stroke="#111">9:28 pm</text>
<circle cx="664.85" cy="165.09" r="1.8" fill="#000"/>
<text x="664.85" y="143.49" font-family="Liberation Sans, sans-serif" font-size="9.4" text-anchor="middle" fill="#111" stroke="#111">3:35 am</text>
<text x="664.85" y="151.49" font-family="Liberation Sans, sans-serif" font-size="9.4" text-anchor="middle" fill="#111" stroke="#111">4.7 ft</text>
<text x="664.85" y="162.29" font-family="Liberation Sans, sans-serif" font-size="9.4" text-anchor="middle" fill="#111" stroke="#111">1.42 m</text>
<circle cx="684.46" cy="368.20" r="1.8" fill="#000"/>
<text x="684.46" y="379.00" font-family="Liberation Sans, sans-serif" font-size="9.4" text-anchor="middle" fill="#111" stroke="#111">0.25 m</text>
<text x="684.46" y="388.60" font-family="Liberation Sans, sans-serif" font-size="9.4" text-anchor="middle" fill="#111" stroke="#111">0.8 ft</text>
<text x="684.46" y="397.30" font-family="Liberation Sans, sans-serif" font-size="9.4" text-anchor="middle" fill="#111" stroke="#111">9:44 am</text>
<polygon points="391.9,217.8 400.8,217.8 396.3,225.6" fill="#dccc44" stroke="#b87808" stroke-width="0.9"/>
<text x="45.6" y="478.60" font-family="Liberation Sans, sans-serif" font-size="10.8" text-anchor="end" fill="#111" stroke="#111">Sunrise</text>
<text x="746.7" y="478.60" font-family="Liberation Sans, sans-serif" font-size="10.8" fill="#111" stroke="#111">Sunrise</text>
<text x="45.6" y="492.10" font-family="Liberation Sans, sans-serif" font-size="10.8" text-anchor="end" fill="#111" stroke="#111">Sunset</text>
<text x="746.7" y="492.10" font-family="Liberation Sans, sans-serif" font-size="10.8" fill="#111" stroke="#111">Sunset</text>
<text x="45.6" y="505.60" font-family="Liberation Sans, sans-serif" font-size="10.8" text-anchor="end" fill="#111" stroke="#111">Moonrise</text>
<text x="746.7" y="505.60" font-family="Liberation Sans, sans-serif" font-size="10.8" fill="#111" stroke="#111">Moonrise</text>
<text x="45.6" y="519.10" font-family="Liberation Sans, sans-serif" font-size="10.8" text-anchor="end" fill="#111" stroke="#111">Moonset</text>
<text x="746.7" y="519.10" font-family="Liberation Sans, sans-serif" font-size="10.8" fill="#111" stroke="#111">Moonset</text>
<polygon points="138.37,467.90 140.31,472.33 145.12,472.81 141.51,476.02 142.54,480.74 138.37,478.30 134.20,480.74 135.23,476.02 131.62,472.81 136.43,472.33" fill="#9a7a30" stroke="#505048" stroke-width="0.7"/>
<polygon points="138.37,470.10 143.03,473.49 141.25,478.96 135.49,478.96 133.71,473.49" fill="#b88000" stroke="#7a6020" stroke-width="0.4"/>
<circle cx="136.47" cy="476.90" r="0.6" fill="#e8e040"/>
<text x="144.97" y="478.4" font-family="Liberation Sans, sans-serif" font-size="9.3" style="stroke-width:0.1px" fill="#111" stroke="#111">6:26am</text>
<polygon points="214.77,467.90 216.71,472.33 221.53,472.81 217.91,476.02 218.95,480.74 214.77,478.30 210.60,480.74 211.63,476.02 208.02,472.81 212.83,472.33" fill="#9a7a30" stroke="#505048" stroke-width="0.7"/>
<polygon points="214.77,470.10 219.43,473.49 217.65,478.96 211.89,478.96 210.11,473.49" fill="#b88000" stroke="#7a6020" stroke-width="0.4"/>
<circle cx="212.87" cy="476.90" r="0.6" fill="#e8e040"/>
<text x="221.37" y="478.4" font-family="Liberation Sans, sans-serif" font-size="9.3" style="stroke-width:0.1px" fill="#111" stroke="#111">6:24am</text>
<polygon points="291.23,467.90 293.17,472.33 297.98,472.81 294.37,476.02 295.40,480.74 291.23,478.30 287.06,480.74 288.09,476.02 284.48,472.81 289.29,472.33" fill="#9a7a30" stroke="#505048" stroke-width="0.7"/>
<polygon points="291.23,470.10 295.89,473.49 294.11,478.96 288.35,478.96 286.57,473.49" fill="#b88000" stroke="#7a6020" stroke-width="0.4"/>
<circle cx="289.33" cy="476.90" r="0.6" fill="#e8e040"/>
<text x="297.83" y="478.4" font-family="Liberation Sans, sans-serif" font-size="9.3" style="stroke-width:0.1px" fill="#111" stroke="#111">6:23am</text>
<polygon points="367.63,467.90 369.57,472.33 374.39,472.81 370.77,476.02 371.81,480.74 367.63,478.30 363.46,480.74 364.49,476.02 360.88,472.81 365.69,472.33" fill="#9a7a30" stroke="#505048" stroke-width="0.7"/>
<polygon points="367.63,470.10 372.29,473.49 370.51,478.96 364.75,478.96 362.97,473.49" fill="#b88000" stroke="#7a6020" stroke-width="0.4"/>
<circle cx="365.73" cy="476.90" r="0.6" fill="#e8e040"/>
<text x="374.23" y="478.4" font-family="Liberation Sans, sans-serif" font-size="9.3" style="stroke-width:0.1px" fill="#111" stroke="#111">6:21am</text>
<polygon points="444.04,467.90 445.98,472.33 450.79,472.81 447.18,476.02 448.21,480.74 444.04,478.30 439.86,480.74 440.90,476.02 437.28,472.81 442.10,472.33" fill="#9a7a30" stroke="#505048" stroke-width="0.7"/>
<polygon points="444.04,470.10 448.70,473.49 446.92,478.96 441.16,478.96 439.38,473.49" fill="#b88000" stroke="#7a6020" stroke-width="0.4"/>
<circle cx="442.14" cy="476.90" r="0.6" fill="#e8e040"/>
<text x="450.64" y="478.4" font-family="Liberation Sans, sans-serif" font-size="9.3" style="stroke-width:0.1px" fill="#111" stroke="#111">6:19am</text>
<polygon points="520.44,467.90 522.38,472.33 527.19,472.81 523.58,476.02 524.61,480.74 520.44,478.30 516.27,480.74 517.30,476.02 513.69,472.81 518.50,472.33" fill="#9a7a30" stroke="#505048" stroke-width="0.7"/>
<polygon points="520.44,470.10 525.10,473.49 523.32,478.96 517.56,478.96 515.78,473.49" fill="#b88000" stroke="#7a6020" stroke-width="0.4"/>
<circle cx="518.54" cy="476.90" r="0.6" fill="#e8e040"/>
<text x="527.04" y="478.4" font-family="Liberation Sans, sans-serif" font-size="9.3" style="stroke-width:0.1px" fill="#111" stroke="#111">6:17am</text>
<polygon points="596.90,467.90 598.84,472.33 603.65,472.81 600.04,476.02 601.07,480.74 596.90,478.30 592.72,480.74 593.76,476.02 590.15,472.81 594.96,472.33" fill="#9a7a30" stroke="#505048" stroke-width="0.7"/>
<polygon points="596.90,470.10 601.56,473.49 599.78,478.96 594.02,478.96 592.24,473.49" fill="#b88000" stroke="#7a6020" stroke-width="0.4"/>
<circle cx="595.00" cy="476.90" r="0.6" fill="#e8e040"/>
<text x="603.50" y="478.4" font-family="Liberation Sans, sans-serif" font-size="9.3" style="stroke-width:0.1px" fill="#111" stroke="#111">6:16am</text>
<polygon points="673.30,467.90 675.24,472.33 680.05,472.81 676.44,476.02 677.47,480.74 673.30,478.30 669.13,480.74 670.16,476.02 666.55,472.81 671.36,472.33" fill="#9a7a30" stroke="#505048" stroke-width="0.7"/>
<polygon points="673.30,470.10 677.96,473.49 676.18,478.96 670.42,478.96 668.64,473.49" fill="#b88000" stroke="#7a6020" stroke-width="0.4"/>
<circle cx="671.40" cy="476.90" r="0.6" fill="#e8e040"/>
<text x="679.90" y="478.4" font-family="Liberation Sans, sans-serif" font-size="9.3" style="stroke-width:0.1px" fill="#111" stroke="#111">6:14am</text>
<polygon points="99.48,481.30 101.42,485.73 106.23,486.21 102.61,489.42 103.65,494.14 99.48,491.70 95.30,494.14 96.34,489.42 92.72,486.21 97.54,485.73" fill="#9a7a30" stroke="#505048" stroke-width="0.7"/>
<polygon points="99.48,483.50 104.14,486.89 102.36,492.36 96.60,492.36 94.82,486.89" fill="#b88000" stroke="#7a6020" stroke-width="0.4"/>
<circle cx="97.58" cy="490.30" r="0.6" fill="#e8e040"/>
<text x="106.08" y="492.0" font-family="Liberation Sans, sans-serif" font-size="9.3" style="stroke-width:0.1px" fill="#111" stroke="#111">6:14pm</text>
<polygon points="176.09,481.30 178.03,485.73 182.85,486.21 179.23,489.42 180.27,494.14 176.09,491.70 171.92,494.14 172.95,489.42 169.34,486.21 174.15,485.73" fill="#9a7a30" stroke="#505048" stroke-width="0.7"/>
<polygon points="176.09,483.50 180.75,486.89 178.97,492.36 173.21,492.36 171.43,486.89" fill="#b88000" stroke="#7a6020" stroke-width="0.4"/>
<circle cx="174.19" cy="490.30" r="0.6" fill="#e8e040"/>
<text x="182.69" y="492.0" font-family="Liberation Sans, sans-serif" font-size="9.3" style="stroke-width:0.1px" fill="#111" stroke="#111">6:16pm</text>
<polygon points="252.66,481.30 254.60,485.73 259.41,486.21 255.79,489.42 256.83,494.14 252.66,491.70 248.48,494.14 249.52,489.42 245.90,486.21 250.72,485.73" fill="#9a7a30" stroke="#505048" stroke-width="0.7"/>
<polygon points="252.66,483.50 257.32,486.89 255.54,492.36 249.78,492.36 248.00,486.89" fill="#b88000" stroke="#7a6020" stroke-width="0.4"/>
<circle cx="250.76" cy="490.30" r="0.6" fill="#e8e040"/>
<text x="259.26" y="492.0" font-family="Liberation Sans, sans-serif" font-size="9.3" style="stroke-width:0.1px" fill="#111" stroke="#111">6:17pm</text>
<polygon points="329.22,481.30 331.16,485.73 335.97,486.21 332.36,489.42 333.39,494.14 329.22,491.70 325.05,494.14 326.08,489.42 322.47,486.21 327.28,485.73" fill="#9a7a30" stroke="#505048" stroke-width="0.7"/>
<polygon points="329.22,483.50 333.88,486.89 332.10,492.36 326.34,492.36 324.56,486.89" fill="#b88000" stroke="#7a6020" stroke-width="0.4"/>
<circle cx="327.32" cy="490.30" r="0.6" fill="#e8e040"/>
<text x="335.82" y="492.0" font-family="Liberation Sans, sans-serif" font-size="9.3" style="stroke-width:0.1px" fill="#111" stroke="#111">6:18pm</text>
<polygon points="405.78,481.30 407.72,485.73 412.53,486.21 408.92,489.42 409.96,494.14 405.78,491.70 401.61,494.14 402.64,489.42 399.03,486.21 403.84,485.73" fill="#9a7a30" stroke="#505048" stroke-width="0.7"/>
<polygon points="405.78,483.50 410.44,486.89 408.66,492.36 402.90,492.36 401.12,486.89" fill="#b88000" stroke="#7a6020" stroke-width="0.4"/>
<circle cx="403.88" cy="490.30" r="0.6" fill="#e8e040"/>
<text x="412.38" y="492.0" font-family="Liberation Sans, sans-serif" font-size="9.3" style="stroke-width:0.1px" fill="#111" stroke="#111">6:19pm</text>
<polygon points="482.35,481.30 484.28,485.73 489.10,486.21 485.48,489.42 486.52,494.14 482.35,491.70 478.17,494.14 479.21,489.42 475.59,486.21 480.41,485.73" fill="#9a7a30" stroke="#505048" stroke-width="0.7"/>
<polygon points="482.35,483.50 487.01,486.89 485.23,492.36 479.46,492.36 477.68,486.89" fill="#b88000" stroke="#7a6020" stroke-width="0.4"/>
<circle cx="480.45" cy="490.30" r="0.6" fill="#e8e040"/>
<text x="488.95" y="492.0" font-family="Liberation Sans, sans-serif" font-size="9.3" style="stroke-width:0.1px" fill="#111" stroke="#111">6:20pm</text>
<polygon points="558.91,481.30 560.85,485.73 565.66,486.21 562.05,489.42 563.08,494.14 558.91,491.70 554.73,494.14 555.77,489.42 552.16,486.21 556.97,485.73" fill="#9a7a30" stroke="#505048" stroke-width="0.7"/>
<polygon points="558.91,483.50 563.57,486.89 561.79,492.36 556.03,492.36 554.25,486.89" fill="#b88000" stroke="#7a6020" stroke-width="0.4"/>
<circle cx="557.01" cy="490.30" r="0.6" fill="#e8e040"/>
<text x="565.51" y="492.0" font-family="Liberation Sans, sans-serif" font-size="9.3" style="stroke-width:0.1px" fill="#111" stroke="#111">6:21pm</text>
<polygon points="635.47,481.30 637.41,485.73 642.22,486.21 638.61,489.42 639.64,494.14 635.47,491.70 631.30,494.14 632.33,489.42 628.72,486.21 633.53,485.73" fill="#9a7a30" stroke="#505048" stroke-width="0.7"/>
<polygon points="635.47,483.50 640.13,486.89 638.35,492.36 632.59,492.36 630.81,486.89" fill="#b88000" stroke="#7a6020" stroke-width="0.4"/>
<circle cx="633.57" cy="490.30" r="0.6" fill="#e8e040"/>
<text x="642.07" y="492.0" font-family="Liberation Sans, sans-serif" font-size="9.3" style="stroke-width:0.1px" fill="#111" stroke="#111">6:22pm</text>
<circle cx="121.10" cy="501.8" r="5" fill="#ffffcc" stroke="#777" stroke-width="0.7"/>
<text x="128.10" y="505.8" font-family="Liberation Sans, sans-serif" font-size="9.3" style="stroke-width:0.1px" fill="#111" stroke="#111">1:01am</text>
<circle cx="200.32" cy="501.8" r="5" fill="#ffffcc" stroke="#777" stroke-width="0.7"/>
<text x="207.32" y="505.8" font-family="Liberation Sans, sans-serif" font-size="9.3" style="stroke-width:0.1px" fill="#111" stroke="#111">1:52am</text>
<circle cx="279.22" cy="501.8" r="5" fill="#ffffcc" stroke="#777" stroke-width="0.7"/>
<text x="286.22" y="505.8" font-family="Liberation Sans, sans-serif" font-size="9.3" style="stroke-width:0.1px" fill="#111" stroke="#111">2:37am</text>
<circle cx="357.86" cy="501.8" r="5" fill="#ffffcc" stroke="#777" stroke-width="0.7"/>
<text x="364.86" y="505.8" font-family="Liberation Sans, sans-serif" font-size="9.3" style="stroke-width:0.1px" fill="#111" stroke="#111">3:17am</text>
<circle cx="436.28" cy="501.8" r="5" fill="#ffffcc" stroke="#777" stroke-width="0.7"/>
<text x="443.28" y="505.8" font-family="Liberation Sans, sans-serif" font-size="9.3" style="stroke-width:0.1px" fill="#111" stroke="#111">3:53am</text>
<circle cx="514.54" cy="501.8" r="5" fill="#ffffcc" stroke="#777" stroke-width="0.7"/>
<text x="521.54" y="505.8" font-family="Liberation Sans, sans-serif" font-size="9.3" style="stroke-width:0.1px" fill="#111" stroke="#111">4:26am</text>
<circle cx="592.65" cy="501.8" r="5" fill="#ffffcc" stroke="#777" stroke-width="0.7"/>
<text x="599.65" y="505.8" font-family="Liberation Sans, sans-serif" font-size="9.3" style="stroke-width:0.1px" fill="#111" stroke="#111">4:56am</text>
<circle cx="670.70" cy="501.8" r="5" fill="#ffffcc" stroke="#777" stroke-width="0.7"/>
<text x="677.70" y="505.8" font-family="Liberation Sans, sans-serif" font-size="9.3" style="stroke-width:0.1px" fill="#111" stroke="#111">5:25am</text>
<circle cx="152.87" cy="515.4" r="5" fill="#ccccaa" stroke="#777" stroke-width="0.7"/>
<text x="159.87" y="519.3" font-family="Liberation Sans, sans-serif" font-size="9.3" style="stroke-width:0.1px" fill="#111" stroke="#111">10:59am</text>
<circle cx="232.09" cy="515.4" r="5" fill="#ccccaa" stroke="#777" stroke-width="0.7"/>
<text x="239.09" y="519.3" font-family="Liberation Sans, sans-serif" font-size="9.3" style="stroke-width:0.1px" fill="#111" stroke="#111">11:50am</text>
<circle cx="311.42" cy="515.4" r="5" fill="#ccccaa" stroke="#777" stroke-width="0.7"/>
<text x="318.42" y="519.3" font-family="Liberation Sans, sans-serif" font-size="9.3" style="stroke-width:0.1px" fill="#111" stroke="#111">12:43pm</text>
<circle cx="390.80" cy="515.4" r="5" fill="#ccccaa" stroke="#777" stroke-width="0.7"/>
<text x="397.80" y="519.3" font-family="Liberation Sans, sans-serif" font-size="9.3" style="stroke-width:0.1px" fill="#111" stroke="#111">1:37pm</text>
<circle cx="470.28" cy="515.4" r="5" fill="#ccccaa" stroke="#777" stroke-width="0.7"/>
<text x="477.28" y="519.3" font-family="Liberation Sans, sans-serif" font-size="9.3" style="stroke-width:0.1px" fill="#111" stroke="#111">2:33pm</text>
<circle cx="549.82" cy="515.4" r="5" fill="#ccccaa" stroke="#777" stroke-width="0.7"/>
<text x="556.82" y="519.3" font-family="Liberation Sans, sans-serif" font-size="9.3" style="stroke-width:0.1px" fill="#111" stroke="#111">3:30pm</text>
<circle cx="629.36" cy="515.4" r="5" fill="#ccccaa" stroke="#777" stroke-width="0.7"/>
<text x="636.36" y="519.3" font-family="Liberation Sans, sans-serif" font-size="9.3" style="stroke-width:0.1px" fill="#111" stroke="#111">4:27pm</text>
<text x="106.7" y="533.2" font-family="Liberation Sans, sans-serif" font-size="9.3" fill="#111" stroke="#111">Last Quarter | 2:04pm</text>
</svg></body></html>
